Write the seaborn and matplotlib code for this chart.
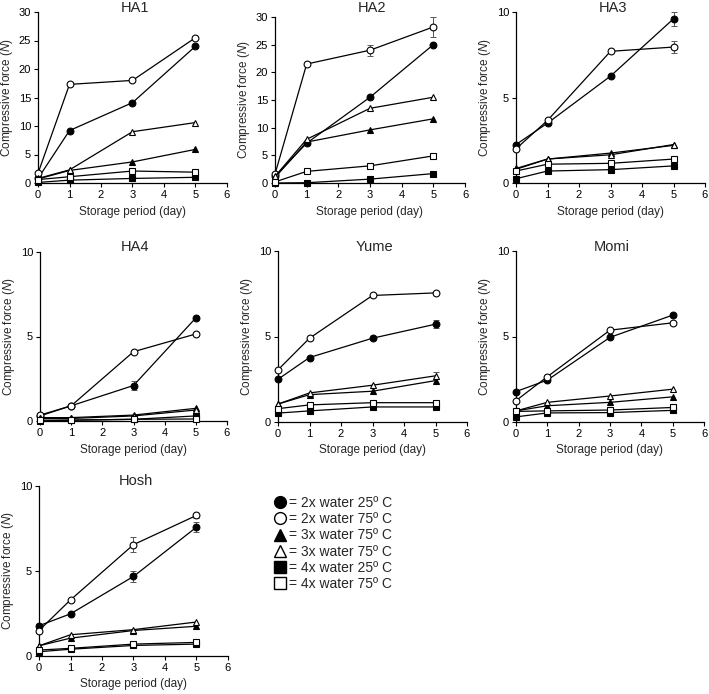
import matplotlib
matplotlib.use("Agg")
import matplotlib.pyplot as plt
from matplotlib.lines import Line2D
import seaborn as sns
import pandas as pd

sns.set_style("ticks")
plt.rcParams["font.family"] = ["Liberation Sans", "DejaVu Sans"]
plt.rcParams["mathtext.fontset"] = "custom"
plt.rcParams["mathtext.rm"] = "Liberation Sans"
plt.rcParams["mathtext.it"] = "Liberation Sans:italic"

days = [0, 1, 3, 5]
series_labels = ["= 2x water 25º C", "= 2x water 75º C", "= 3x water 75º C",
                 "= 3x water 75º C", "= 4x water 25º C", "= 4x water 75º C"]
series_keys = ["2x25", "2x75", "3x25", "3x75", "4x25", "4x75"]

HA1 = [[0.8, 9.2, 14.1, 24.0], [1.7, 17.3, 18.0, 25.5], [0.7, 2.2, 3.7, 5.9],
       [0.8, 2.3, 9.0, 10.6], [0.1, 0.5, 0.8, 1.0], [0.6, 1.1, 2.1, 1.9]]
HA2 = [[1.2, 7.2, 15.5, 25.0], [1.6, 21.5, 24.0, 28.2], [1.0, 7.4, 9.6, 11.6],
       [1.2, 7.9, 13.5, 15.5], [0.0, 0.05, 0.7, 1.7], [0.2, 2.1, 3.1, 4.9]]
HA3 = [[2.25, 3.5, 6.25, 9.6], [2.0, 3.66, 7.7, 7.95], [0.85, 1.4, 1.75, 2.2],
       [0.8, 1.4, 1.65, 2.25], [0.25, 0.7, 0.78, 1.0], [0.7, 1.1, 1.15, 1.4]]
HA4 = [[0.3, 0.9, 2.1, 6.1], [0.35, 0.9, 4.1, 5.15], [0.2, 0.2, 0.35, 0.75],
       [0.15, 0.15, 0.3, 0.65], [0.0, 0.05, 0.1, 0.3], [0.05, 0.05, 0.1, 0.12]]
Yume = [[2.5, 3.77, 4.9, 5.72], [3.05, 4.9, 7.4, 7.55], [1.05, 1.6, 1.8, 2.42],
        [1.05, 1.7, 2.15, 2.7], [0.52, 0.65, 0.88, 0.88], [0.78, 1.0, 1.13, 1.13]]
Momi = [[1.78, 2.45, 4.95, 6.25], [1.25, 2.65, 5.37, 5.8], [0.65, 0.95, 1.15, 1.47],
        [0.65, 1.15, 1.52, 1.92], [0.3, 0.53, 0.55, 0.68], [0.62, 0.65, 0.7, 0.85]]
Hosh = [[1.78, 2.48, 4.68, 7.58], [1.5, 3.3, 6.55, 8.27], [0.6, 1.05, 1.5, 1.75],
        [0.6, 1.25, 1.55, 2.0], [0.25, 0.4, 0.62, 0.7], [0.35, 0.45, 0.7, 0.8]]

# visible error bars: (panel, series index, day index, error)
error_bars = [("HA2", 1, 2, 1.0), ("HA2", 1, 3, 1.8), ("HA3", 0, 3, 0.4),
              ("HA3", 1, 3, 0.35), ("HA4", 0, 2, 0.25), ("Yume", 0, 3, 0.25),
              ("Yume", 3, 3, 0.2), ("Hosh", 1, 2, 0.45), ("Hosh", 0, 2, 0.3),
              ("Hosh", 0, 3, 0.3), ("Hosh", 1, 3, 0.15)]

panels = {"HA1": HA1, "HA2": HA2, "HA3": HA3, "HA4": HA4,
          "Yume": Yume, "Momi": Momi, "Hosh": Hosh}
ymax = {"HA1": 30, "HA2": 30, "HA3": 10, "HA4": 10, "Yume": 10, "Momi": 10, "Hosh": 10}

# layout in pixels: left, top, right, bottom
W, H = 709, 694
rects = {"HA1": (38, 12, 227, 183), "HA2": (275, 17, 465, 183), "HA3": (516, 12, 705, 183),
         "HA4": (40, 252, 227, 421), "Yume": (278, 251, 467, 422), "Momi": (516, 251, 704, 422),
         "Hosh": (39, 486, 228, 656)}
title_base = {"HA1": 11.5, "HA2": 11.5, "HA3": 12, "HA4": 251, "Yume": 251, "Momi": 251,
              "Hosh": 485}

markers = ["o", "o", "^", "^", "s", "s"]
faces = ["black", "white", "black", "white", "black", "white"]

fig = plt.figure(figsize=(W / 100, H / 100), dpi=100)

for name, data in panels.items():
    l, t, r, b = rects[name]
    ax = fig.add_axes([l / W, 1 - b / H, (r - l) / W, (b - t) / H])
    rows = []
    for key, vals in zip(series_keys, data):
        for d, v in zip(days, vals):
            rows.append({"day": d, "force": v, "series": key})
    df = pd.DataFrame(rows)
    for i, key in enumerate(series_keys):
        sub = df[df["series"] == key]
        for pn, si, di, e in error_bars:
            if pn == name and si == i:
                ax.errorbar(days[di], data[si][di], yerr=e, fmt="none", ecolor="#555555",
                            elinewidth=0.7, capsize=2, capthick=0.7, zorder=2, clip_on=False)
        sns.lineplot(data=sub, x="day", y="force", ax=ax, color="black", linewidth=0.9,
                     marker=markers[i], markersize=4.9,
                     markerfacecolor=faces[i], markeredgecolor="black",
                     markeredgewidth=0.8, clip_on=False, zorder=3 + i, legend=False,
                     errorbar=None)
    ax.set_xlim(0, 6)
    ax.set_ylim(0, ymax[name])
    ax.set_xticks(range(0, 7))
    ax.set_yticks(range(0, ymax[name] + 1, 5))
    sns.despine(ax=ax)
    for s in ["left", "bottom"]:
        ax.spines[s].set_linewidth(0.9)
        ax.spines[s].set_color("black")
    ax.tick_params(axis="both", labelsize=8, length=3, width=0.8, direction="out",
                   colors="black", pad=2)
    ax.set_xlabel("Storage period (day)", fontsize=8.5, labelpad=4)
    ax.set_ylabel("Compressive force ($\\it{N}$)", fontsize=8.5, labelpad=3)
    fig.text((l + r) / 2 / W + 2 / W, 1 - title_base[name] / H, name, fontsize=10.5,
             ha="center", va="baseline")

handles = [Line2D([], [], linestyle="none", marker=m, markersize=8.5,
                  markerfacecolor=f, markeredgecolor="black", markeredgewidth=1.0)
           for m, f in zip(markers, faces)]
fig.legend(handles, series_labels, loc="upper left",
           bbox_to_anchor=(272 / W, 1 - 496 / H), frameon=False, fontsize=10,
           handletextpad=0.05, labelspacing=0.16, handlelength=1.2, borderpad=0,
           borderaxespad=0)

fig.savefig("out.png", dpi=100)
